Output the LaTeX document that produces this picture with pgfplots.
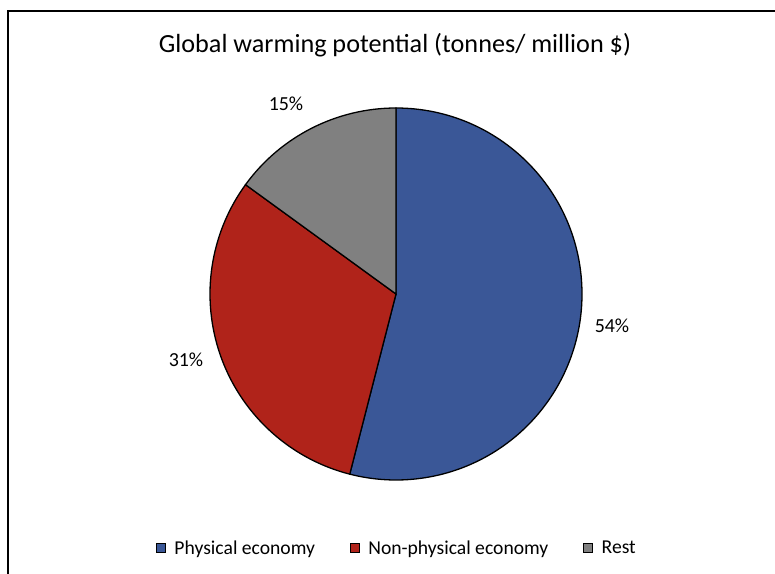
\documentclass[border=0pt]{standalone}
\usepackage{pgfplots}
\usepackage{pgfplotstable}
\pgfplotsset{compat=1.18}
\usepackage{fontspec}
\setmainfont{Carlito}
\definecolor{pblue}{HTML}{3A5797}
\definecolor{pred}{HTML}{B0231A}
\definecolor{pgray}{HTML}{808080}
\pgfplotstableread{
label value lx ly
Physical 54 612 248
Nonphysical 31 186 214
Rest 15 286 470
}\piedata
\begin{document}
\begin{tikzpicture}
\pgfplotstablegetelem{0}{value}\of\piedata \let\va\pgfplotsretval
\pgfplotstablegetelem{1}{value}\of\piedata \let\vb\pgfplotsretval
\pgfplotstablegetelem{2}{value}\of\piedata \let\vc\pgfplotsretval
\pgfmathsetmacro\aA{90}
\pgfmathsetmacro\aB{90-3.6*\va}
\pgfmathsetmacro\aC{\aB-3.6*\vb}
\pgfmathsetmacro\aD{\aC-3.6*\vc}
\useasboundingbox (0,0) rectangle (775bp,574bp);
\begin{axis}[
  at={(0,0)}, anchor=south west,
  x=1bp, y=1bp, xmin=0, xmax=775, ymin=0, ymax=574,
  scale only axis, hide axis, clip=false,
  legend columns=3,
  legend style={at={(axis cs:397,26)}, anchor=center, draw=none, fill=none,
    font=\fontsize{19.7}{22}\selectfont,
    /tikz/every even column/.append style={column sep=33bp},
    /tikz/every odd column/.append style={column sep=6.5bp}},
  legend image code/.code={\draw[#1,line width=0.8bp] (0bp,-4.5bp) rectangle (9bp,4.5bp);},
]
\fill[white] (axis cs:0,0) rectangle (axis cs:775,574);
\draw[black, line width=2bp] (axis cs:8,0) -- (axis cs:8,563) -- (axis cs:775,563);
\filldraw[fill=pblue, draw=black, line width=1.3bp] (axis cs:396,280) -- ++(\aA:186bp) arc[start angle=\aA, end angle=\aB, radius=186bp] -- cycle;
\filldraw[fill=pred, draw=black, line width=1.3bp] (axis cs:396,280) -- ++(\aB:186bp) arc[start angle=\aB, end angle=\aC, radius=186bp] -- cycle;
\filldraw[fill=pgray, draw=black, line width=1.3bp] (axis cs:396,280) -- ++(\aC:186bp) arc[start angle=\aC, end angle=\aD, radius=186bp] -- cycle;
\pgfplotstableforeachcolumnelement{value}\of\piedata\as\v{%
  \pgfplotstablegetelem{\pgfplotstablerow}{lx}\of\piedata \let\lx\pgfplotsretval
  \pgfplotstablegetelem{\pgfplotstablerow}{ly}\of\piedata \let\ly\pgfplotsretval
  \edef\tmp{\noexpand\node[font=\noexpand\fontsize{20}{24}\noexpand\selectfont] at (axis cs:\lx,\ly) {\v\noexpand\%};}\tmp
}
\node[font=\fontsize{26.3}{30}\selectfont] at (axis cs:395,529) {Global warming potential (tonnes/ million \$)};
\addlegendimage{fill=pblue, draw=black}
\addlegendentry{Physical economy}
\addlegendimage{fill=pred, draw=black}
\addlegendentry{Non-physical economy}
\addlegendimage{fill=pgray, draw=black}
\addlegendentry{Rest}
\end{axis}
\end{tikzpicture}
\end{document}
